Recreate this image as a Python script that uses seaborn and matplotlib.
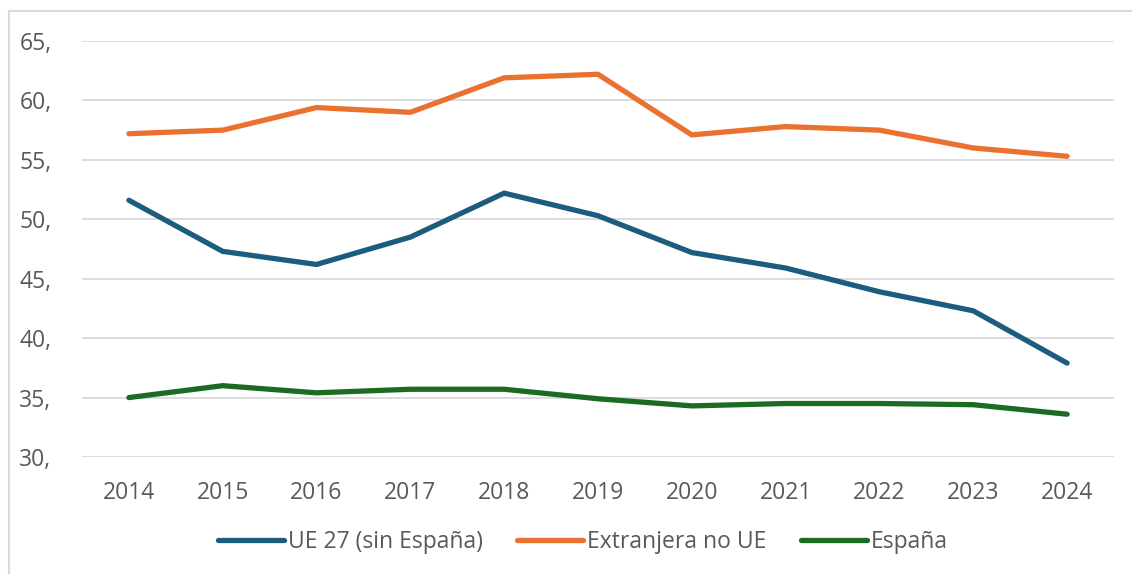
import matplotlib
matplotlib.use("Agg")
import matplotlib.pyplot as plt
import matplotlib.patches as mpatches
import seaborn as sns
import pandas as pd

years = [2014, 2015, 2016, 2017, 2018, 2019, 2020, 2021, 2022, 2023, 2024]
ue27 = [51.6, 47.3, 46.2, 48.5, 52.2, 50.3, 47.2, 45.9, 43.9, 42.3, 37.9]
extranjera = [57.2, 57.5, 59.4, 59.0, 61.9, 62.2, 57.1, 57.8, 57.5, 56.0, 55.3]
espana = [35.0, 36.0, 35.4, 35.7, 35.7, 34.9, 34.3, 34.5, 34.5, 34.4, 33.6]
series_names = ["UE 27 (sin España)", "Extranjera no UE", "España"]
colors = ["#1C5C7E", "#EB7130", "#1C6B22"]

rows = []
for name, vals in zip(series_names, [ue27, extranjera, espana]):
    for i, v in enumerate(vals):
        rows.append({"pos": i, "year": years[i], "serie": name, "valor": v})
df = pd.DataFrame(rows)

sns.set_style("white")
plt.rcParams["font.family"] = ["Open Sans", "DejaVu Sans"]
grey = "#595959"

fig = plt.figure(figsize=(11.32, 5.74), dpi=100)
ax = fig.add_axes([82 / 1132, 1 - 457 / 574, (1114 - 82) / 1132, (457 - 41) / 574])

sns.lineplot(data=df, x="pos", y="valor", hue="serie", hue_order=series_names,
             palette=colors, linewidth=3.8, ax=ax, solid_capstyle="round")

ax.set_xlim(-0.5, len(years) - 0.5)
ax.set_ylim(30, 65)
ax.set_yticks(range(30, 66, 5))
ax.set_yticklabels([f"{t}," for t in range(30, 66, 5)])
ax.set_xticks(range(len(years)))
ax.set_xticklabels([str(y) for y in years])
ax.tick_params(axis="both", colors=grey, labelsize=16.5, length=0)
ax.tick_params(axis="y", pad=22)
ax.tick_params(axis="x", pad=17)
ax.grid(axis="y", color="#D9D9D9", linewidth=1.3)
ax.set_axisbelow(True)
for s in ax.spines.values():
    s.set_visible(False)
ax.set_xlabel("")
ax.set_ylabel("")

handles, labels = ax.get_legend_handles_labels()
leg = ax.legend(handles, labels, loc="center", bbox_to_anchor=(0.485, -0.205),
                ncol=3, frameon=False, fontsize=16.5, handlelength=2.9,
                handletextpad=0.15, columnspacing=1.5)
for t in leg.get_texts():
    t.set_color(grey)
for h in leg.get_lines():
    h.set_linewidth(3.8)
    h.set_solid_capstyle("round")

frame = mpatches.Rectangle((9 / 1132, -0.1), 1.2, 1 - 11 / 574 + 0.1,
                           transform=fig.transFigure, fill=False,
                           edgecolor="#D9D9D9", linewidth=1.5)
fig.patches.append(frame)

fig.savefig("out.png", dpi=100)
